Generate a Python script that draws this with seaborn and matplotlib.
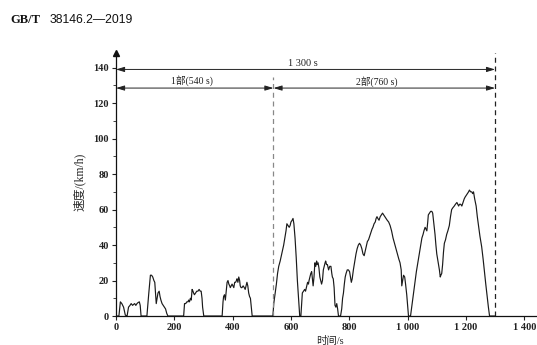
import matplotlib
matplotlib.use("Agg")
import matplotlib.pyplot as plt
import seaborn as sns
import pandas as pd

# ---- data ----
time_s = [0, 10, 15, 20, 26, 32, 38, 43, 48, 52, 57, 60, 64, 68, 72, 75, 80, 83, 86,
          106, 112, 118, 122, 126, 130, 133, 136, 138, 141, 144, 148, 151, 154, 158, 162, 166, 170, 174, 178,
          232, 235, 239, 243, 247, 249, 252, 255, 258, 261, 264, 266, 269, 273, 277, 281, 285, 289, 292, 295, 297, 301,
          364, 367, 369, 372, 375, 378, 381, 384, 387, 390, 392, 395, 398, 401, 404, 407, 410, 413, 415, 418,
          421, 424, 426, 429, 432, 436, 440, 443, 446, 449, 452, 455, 458, 461, 464, 467,
          538, 541, 545, 550, 554, 558, 563, 567, 571, 575, 579, 583, 586, 590, 594, 597, 600, 604, 607, 610,
          614, 618, 622, 626, 630,
          634, 637, 639, 643, 647, 650, 654, 657, 660, 662, 665, 668, 671, 673, 676, 679, 682, 685, 688, 690,
          693, 696, 699, 702, 705, 708, 711, 714, 717, 719, 722, 725, 729, 733, 737, 740, 742, 745, 748, 751,
          754, 757, 760, 763, 766, 770, 774, 777, 780, 783, 786, 789, 793, 797, 801, 804, 807, 810, 814, 819,
          823, 827, 831, 835, 839, 843, 847, 851, 855, 859, 862, 866, 870, 874, 878, 881, 885, 889, 892, 895,
          898, 902, 906, 910, 914, 918, 922, 926, 930, 935, 940, 945, 950, 955, 960, 965, 970, 974, 978, 980,
          983, 986, 990, 993, 997, 1000, 1003, 1010, 1014, 1018, 1022, 1026, 1030, 1034, 1037, 1041, 1045, 1049,
          1053, 1056, 1060, 1063, 1066, 1069, 1071, 1075, 1079, 1083, 1086, 1090, 1094, 1097, 1100, 1104, 1109,
          1112, 1114, 1117, 1120, 1123, 1126, 1130, 1134, 1138, 1143, 1147, 1151, 1155, 1160, 1164, 1169, 1172,
          1175, 1178, 1182, 1186, 1190, 1194, 1197, 1201, 1205, 1209, 1212, 1216, 1220, 1223, 1226, 1230, 1235,
          1239, 1243, 1248, 1254, 1259, 1264, 1268, 1272, 1277, 1281, 1300]
speed_kmh = [0, 0, 8, 7, 5, 0.5, 0, 5, 6, 7, 6, 6.5, 7, 6, 7, 7.5, 8, 6, 0,
             0, 12, 23, 23, 22, 20, 19, 12, 7, 10, 13, 14, 11, 9, 7, 6, 5, 4, 1.5, 0,
             0, 7, 7, 8, 8, 9, 8, 10, 9, 15, 14, 13, 12, 13, 14, 14, 15, 14, 14, 10, 5, 0,
             0, 8, 11, 12, 9, 14, 19, 20, 18, 17, 16, 17, 18, 17, 16, 19, 19, 20, 21, 19,
             22, 20, 17, 16, 16, 17, 16, 15, 17, 19, 17, 13, 11, 10, 5, 0,
             0, 7, 12, 18, 24, 28, 31, 34, 37, 40, 44, 48, 52, 51, 50, 51, 53, 54, 55, 52,
             44, 33, 20, 10, 0,
             0, 8, 13, 14, 15, 14, 17, 19, 18, 20, 22, 24, 25, 22, 17, 22, 30, 28, 31, 29,
             30, 27, 22, 20, 18, 20, 26, 28, 30, 31, 29, 29, 26, 28, 28, 24, 22, 21, 16, 6,
             5, 7, 4, 0, 0, 0, 4, 10, 13, 18, 22, 24, 26, 26, 25, 22, 19, 21, 26, 31,
             35, 38, 40, 41, 40, 38, 35, 34, 37, 40, 42, 43, 45, 47, 49, 50, 52, 53, 55, 56,
             55, 54, 56, 57, 58, 57, 56, 55, 54, 53, 51, 48, 44, 41, 38, 35, 32, 30, 26, 17,
             20, 23, 22, 18, 12, 6, 0, 0, 5, 10, 15, 20, 25, 29, 32, 36, 40, 44,
             46, 48, 50, 49, 48, 53, 57, 58, 59, 59, 58, 52, 46, 40, 35, 31, 26,
             22, 23, 24, 29, 36, 41, 43, 46, 48, 51, 56, 60, 61, 62, 63, 64, 63,
             62, 63, 63, 62, 64, 66, 67, 68, 69, 70, 71, 70, 70, 69, 70, 66, 62,
             56, 51, 45, 39, 32, 24, 18, 12, 5, 0, 0]

x_ticks = [0, 200, 400, 600, 800, 1000, 1200, 1400]
x_tick_labels = ["0", "200", "400", "600", "800", "1 000", "1 200", "1 400"]
y_ticks = [0, 20, 40, 60, 80, 100, 120, 140]
phase_bounds = [0, 540, 1300]
phase_labels = ["1部(540 s)", "2部(760 s)"]
total_label = "1 300 s"
title_code = "GB/T"
title_num = "38146.2—2019"
x_label = "时间/s"
y_label = "速度/(km/h)"

df = pd.DataFrame({"t": time_s, "v": speed_kmh})

sns.set_style("ticks")
plt.rcParams["font.family"] = ["Liberation Serif", "Noto Sans CJK SC"]

fig = plt.figure(figsize=(5.37, 3.45), dpi=100)
ax = fig.add_axes([0.216, 0.084, 0.782, 0.761])

sns.lineplot(data=df, x="t", y="v", ax=ax, color="#1a1a1a", linewidth=0.85,
             estimator=None, sort=False)

ax.set_xlim(0, 1440)
ax.set_ylim(0, 148)
ax.set_xticks(x_ticks)
ax.set_xticklabels(x_tick_labels)
ax.set_yticks(y_ticks)
ax.set_yticks(range(10, 150, 20), minor=True)
ax.tick_params(axis="both", which="major", direction="out", length=3, width=0.8,
               labelsize=7.5, colors="#222222", pad=2)
ax.tick_params(axis="y", which="minor", direction="out", length=2, width=0.6)
for lab in ax.get_xticklabels() + ax.get_yticklabels():
    lab.set_fontweight("bold")

sns.despine(ax=ax)
for s in ["left", "bottom"]:
    ax.spines[s].set_linewidth(0.9)
    ax.spines[s].set_color("#111111")

# arrow at top of y axis
ax.plot([0], [1.0], marker="^", color="#111111", markersize=4,
        transform=ax.transAxes, clip_on=False)

ax.set_xlabel(x_label, fontsize=7.5)
ax.set_ylabel(y_label, fontsize=8.5)
ax.xaxis.set_label_coords(0.51, -0.075)
ax.yaxis.set_label_coords(-0.072, 0.51)

# phase boundaries
ax.plot([540, 540], [0, 135], linestyle=(0, (4, 3)), color="#888888", linewidth=0.9)
ax.plot([1300, 1300], [0, 148], linestyle=(0, (4, 3)), color="#222222", linewidth=0.9)

arrow_kw = dict(arrowstyle="<|-|>,head_length=0.5,head_width=0.15", color="#222222",
                linewidth=0.7, shrinkA=0, shrinkB=0)
ax.annotate("", xy=(phase_bounds[0], 139), xytext=(phase_bounds[2], 139), arrowprops=arrow_kw)
ax.annotate("", xy=(phase_bounds[0], 128.5), xytext=(phase_bounds[1], 128.5), arrowprops=arrow_kw)
ax.annotate("", xy=(phase_bounds[1], 128.5), xytext=(phase_bounds[2], 128.5), arrowprops=arrow_kw)

ax.text(640, 142.3, total_label, ha="center", va="center", fontsize=7.5, color="#222222")
ax.text(262, 132.7, phase_labels[0], ha="center", va="center", fontsize=7, color="#222222")
ax.text(893, 132.0, phase_labels[1], ha="center", va="center", fontsize=7, color="#222222")

fig.text(10 / 537, 1 - 20 / 345, title_code, fontsize=9, fontweight="bold",
         family="Liberation Serif", ha="left", va="center", color="#111111")
fig.text(50 / 537, 1 - 20 / 345, title_num, fontsize=8.8, family="Liberation Sans",
         ha="left", va="center", color="#111111")

fig.savefig("out.png", dpi=100)
